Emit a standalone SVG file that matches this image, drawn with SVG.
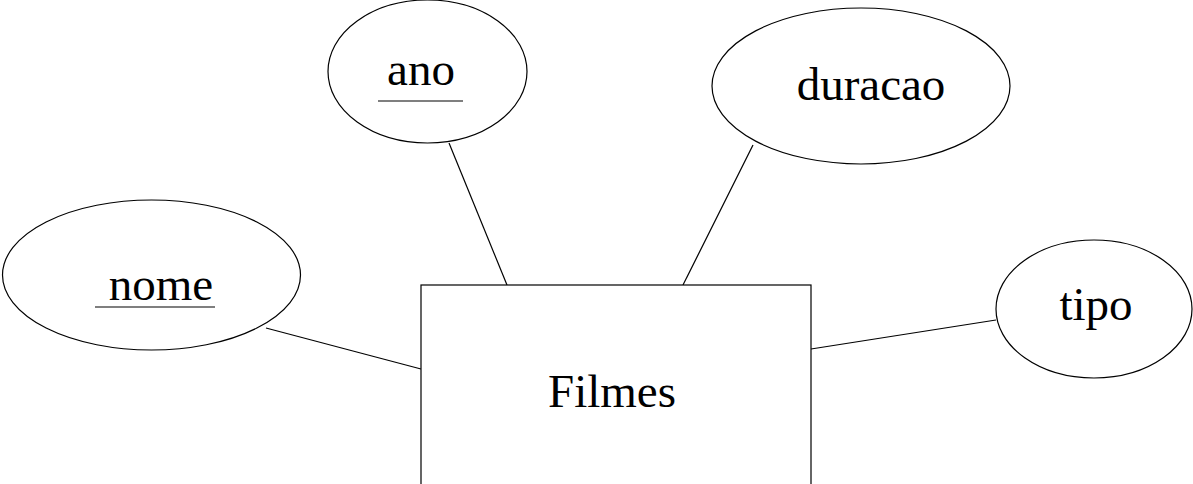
<svg xmlns="http://www.w3.org/2000/svg" width="1193" height="484" viewBox="0 0 1193 484">
<style>
.shape{fill:#fff;stroke:#000;stroke-width:1.2}
.lbl{font-family:"Liberation Serif","Times New Roman",serif;font-size:47px;fill:#000;text-anchor:middle}
.ul{stroke:#000;stroke-width:1.2}
.conn line{stroke:#000;stroke-width:1.2}
</style>
<rect width="1193" height="484" fill="#fff"/>
<g class="conn" id="connectors">
<line x1="266" y1="328" x2="421" y2="369"/>
<line x1="449" y1="143" x2="507" y2="285"/>
<line x1="753" y1="145" x2="683" y2="285"/>
<line x1="811" y1="349" x2="996" y2="320"/>
</g>
<g id="filmes">
<rect class="shape" x="421" y="285" width="390" height="205"/>
<text class="lbl" x="612" y="407">Filmes</text>
</g>
<g id="nome">
<ellipse class="shape" cx="151.5" cy="275" rx="149" ry="75"/>
<text class="lbl" x="161" y="300">nome</text>
<line class="ul" x1="95" y1="307" x2="215" y2="307"/>
</g>
<g id="ano">
<ellipse class="shape" cx="427.5" cy="71.5" rx="99.5" ry="71.5"/>
<text class="lbl" x="421" y="85">ano</text>
<line class="ul" x1="378" y1="101" x2="463" y2="101"/>
</g>
<g id="duracao">
<ellipse class="shape" cx="861" cy="86" rx="149" ry="78"/>
<text class="lbl" x="871" y="100">duracao</text>
</g>
<g id="tipo">
<ellipse class="shape" cx="1094" cy="309" rx="98" ry="69"/>
<text class="lbl" x="1096" y="320">tipo</text>
</g>
</svg>
